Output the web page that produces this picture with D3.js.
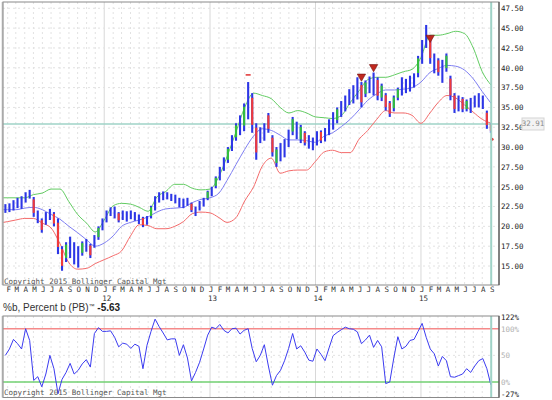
<!DOCTYPE html>
<html>
<head>
<meta charset="utf-8">
<script src="https://cdn.jsdelivr.net/npm/d3@7"></script>
<style>
body { margin: 0; background: #fff; }
svg { display: block; }
.mono { font-family: "DejaVu Sans Mono", monospace; font-size: 7.5px; }
</style>
</head>
<body>
<div id="chart"></div>
<script>
// biweekly bars, first one on 24 Jan 2011
const firstBar = new Date(2011, 0, 24);

const lows = [21.7,21.8,22.0,22.3,22.2,23.0,23.5,21.2,20.4,19.2, 20.2,20.8,20.0,16.5,14.4,15.5,16.0,15.2,14.8,16.3,
  16.8,16.0,17.3,18.3,19.5,20.5,21.3,21.0,20.5,20.8, 20.6,20.9,20.7,20.3,19.9,20.2,21.0,22.0,23.0,23.3,
  23.4,23.2,22.9,22.4,22.3,22.6,21.8,21.3,22.0,22.5, 23.3,23.8,24.8,25.8,27.0,28.0,29.5,30.8,31.5,32.0,
  33.5,31.8,28.4,30.5,30.8,31.8,28.8,27.5,28.2,28.7, 30.0,31.5,31.0,30.5,30.2,29.8,29.6,30.2,30.5,30.7,
  31.5,32.2,33.0,33.8,34.5,35.3,35.5,36.0,35.0,36.3, 36.8,36.5,35.9,35.8,34.6,33.8,34.5,35.9,36.5,36.8,
  37.0,37.5,38.8,40.5,42.5,40.5,39.3,39.0,38.1,39.5, 35.9,34.3,34.5,34.4,34.5,34.3,35.0,35.0,34.8,32.3,
  31.8];
const highs = [22.8,22.9,23.3,23.6,23.8,24.3,24.6,23.7,22.0,21.0, 21.8,22.2,21.8,21.0,17.5,18.0,18.7,18.0,17.5,18.1,
  18.4,17.8,18.9,20.0,21.0,22.0,22.4,22.5,21.8,22.0, 21.9,22.0,21.8,21.5,21.2,21.3,22.6,23.8,24.3,24.4,
  24.3,24.1,24.0,23.6,23.5,23.6,23.0,22.5,23.2,23.6, 24.5,25.0,26.3,27.5,28.7,30.0,31.5,33.0,34.0,35.5,
  38.2,36.8,33.0,32.5,33.0,34.3,31.5,30.0,30.5,31.0, 32.2,33.8,33.2,32.8,32.0,31.5,31.2,32.0,32.1,32.4,
  33.5,34.4,35.0,35.8,36.5,37.3,37.8,38.8,38.2,38.4, 38.9,39.4,38.8,38.0,36.8,35.8,36.5,37.5,38.8,38.6,
  39.0,39.3,41.5,43.5,45.4,44.1,41.8,41.2,41.0,41.8, 39.0,36.8,36.5,36.3,36.0,36.2,36.5,36.8,36.5,34.6,
  33.0];
// b = plain, r = down, g = up
const barColors = "bbbbbbbrbr" + "bbrrrgbbbg" + "brbgbbbbrb" + "bbbbrbgbbb" + "bbbbbbrbbb" + "gbgbbgbgbg" +
  "brrbbrrgbb" + "bgbgrbbbrb" + "bbgbbbbbrg" + "bbrgrrggbb" + "bbgbbrbrbg" + "rrbrgbbbbr" + "r";

const percentB = [50,62,80,72,62,100,78,3,10,-9, 15,50,25,-22,5,18,35,15,22,34,
  42,28,91,102,95,95,96,84,66,73, 71,63,71,67,25,69,95,118,104,92,
  79,81,81,50,70,45,2,18,37,62, 88,103,100,108,97,92,100,101,90,97,
  100,63,38,50,70,30,-6,12,22,40, 63,91,62,68,56,41,39,62,52,40,
  64,87,93,98,103,100,99,94,72,79, 88,65,78,66,-3,0,45,85,62,67,
  78,80,95,110,84,62,53,30,48,40, 10,9,12,15,25,18,30,40,44,25,
  -5.63];

// bands read once a month (first point mid January 2011)
const bandDates = [new Date(2011, 0, 17)].concat(d3.timeMonth.range(new Date(2011, 1, 1), new Date(2015, 9, 1)));
const upperBand = [23.6,23.6,23.6,23.6,24.0,24.2,24.7,24.7,23.1,21.5,20.4,19.3,20.8,22.6,22.9,22.8,22.4,21.9,23.7,24.4,
  25.3,25.3,24.8,24.6,24.7,26.3,28.8,31.9,35.0,36.8,36.5,36.1,35.0,34.3,34.6,34.3,33.8,33.7,33.6,34.0,
  35.6,37.1,38.5,38.8,38.8,39.1,39.5,39.8,41.3,44.1,44.1,44.3,44.6,44.3,42.5,39.5,37.8];
const midBand = [22.1,22.1,22.1,22.3,22.4,22.1,21.5,20.9,20.0,19.2,18.3,17.5,17.9,18.8,20.0,20.5,20.8,21.2,21.8,22.2,
  22.3,22.4,23.0,23.4,23.6,24.2,25.8,27.8,29.7,31.4,32.3,32.1,31.5,30.9,30.9,30.8,30.6,31.4,31.8,32.6,
  33.5,34.7,35.9,36.7,37.2,37.2,37.3,37.5,38.2,39.4,39.9,40.3,40.2,39.7,38.6,37.0,35.5];
const lowerBand = [20.5,20.6,20.8,21.0,21.0,20.4,19.8,17.8,15.4,14.6,14.7,15.3,15.8,16.3,16.9,18.8,20.2,20.1,19.7,19.7,
  20.0,20.6,21.6,21.8,21.7,21.1,20.5,21.1,23.2,25.0,27.6,28.6,26.7,27.0,27.1,27.1,28.2,29.4,29.6,29.3,
  29.3,31.0,32.1,33.5,34.6,34.3,34.3,34.0,33.0,34.3,35.6,36.5,36.2,35.3,34.4,33.5,33.0];

const signalBars = [88, 91, 105];
const signalPrices = [38.9, 40.1, 43.8];
const dashBar = 60, dashPrice = 39.1;
const lastDot = { date: new Date(2015, 8, 4), price: 31.0 };
const lastPrice = 32.91;
const lastPB = "-5.63";
const markerDate = new Date(2015, 8, 1);

const priceTicks = d3.range(15, 47.6, 2.5);
const pbTicks = [122, 100, 50, 0, -27];
const monthLetters = "JFMAMJJASOND";

const W = 552, H = 400;
const svg = d3.select("#chart").append("svg")
  .attr("width", W).attr("height", H)
  .attr("viewBox", [0, 0, W, H]);

const main = { l: 3, t: 2, r: 499, b: 285 };
const low = { l: 3, t: 316, r: 499, b: 397.5 };

const x = d3.scaleTime()
  .domain([new Date(2011, 1, 1), new Date(2015, 8, 1)])
  .range([7.7, 491.2]);
const yP = d3.scaleLinear().domain([15, 47.5]).range([266, 8.3]);
const yB = d3.scaleLinear().domain([-27, 122]).range([396.4, 317]);

const barDates = lows.map((d, i) => d3.timeDay.offset(firstBar, 14 * i));
const months = d3.timeMonth.range(new Date(2011, 1, 1), new Date(2015, 8, 2));

svg.append("clipPath").attr("id", "clipMain")
  .append("rect").attr("x", main.l).attr("y", main.t)
  .attr("width", main.r - main.l).attr("height", main.b - main.t);
svg.append("clipPath").attr("id", "clipLow")
  .append("rect").attr("x", low.l).attr("y", low.t)
  .attr("width", low.r - low.l).attr("height", low.b - low.t);

// grids
function grid(p) {
  const g = svg.append("g");
  g.selectAll("line.m").data(months).enter().append("line")
    .attr("x1", d => x(d)).attr("x2", d => x(d))
    .attr("y1", p.t).attr("y2", p.b)
    .attr("stroke", d => d.getMonth() === 0 ? "#d8d8d8" : "#e2e2e2")
    .attr("stroke-dasharray", d => d.getMonth() === 0 ? null : "2,3");
  return g;
}
const gMainGrid = grid(main);
gMainGrid.selectAll("line.h").data(priceTicks).enter().append("line")
  .attr("x1", main.l).attr("x2", main.r)
  .attr("y1", d => yP(d)).attr("y2", d => yP(d))
  .attr("stroke", "#e2e2e2").attr("stroke-dasharray", "2,3");
const gLowGrid = grid(low);
gLowGrid.append("line")
  .attr("x1", low.l).attr("x2", low.r)
  .attr("y1", yB(50)).attr("y2", yB(50))
  .attr("stroke", "#e2e2e2").attr("stroke-dasharray", "2,3");

// main panel
const gm = svg.append("g").attr("clip-path", "url(#clipMain)");

gm.append("line")
  .attr("x1", main.l).attr("x2", main.r)
  .attr("y1", yP(lastPrice)).attr("y2", yP(lastPrice))
  .attr("stroke", "#9fd3c7").attr("stroke-width", 1.6);

const band = d3.line().x((d, i) => x(bandDates[i])).y(d => yP(d)).curve(d3.curveMonotoneX);
[[upperBand, "#62cc62"], [midBand, "#7e7ef2"], [lowerBand, "#f46a6a"]].forEach(([arr, c]) => {
  gm.append("path").datum(arr)
    .attr("d", band).attr("fill", "none")
    .attr("stroke", c).attr("stroke-width", 1);
});

gm.selectAll("line.bar").data(lows).enter().append("line")
  .attr("x1", (d, i) => x(barDates[i])).attr("x2", (d, i) => x(barDates[i]))
  .attr("y1", d => yP(d)).attr("y2", (d, i) => yP(highs[i]))
  .attr("stroke", "#2c36e6").attr("stroke-width", 2.1);

const colored = lows.map((d, i) => i).filter(i => barColors[i] !== "b");
gm.selectAll("line.col").data(colored).enter().append("line")
  .attr("x1", i => x(barDates[i])).attr("x2", i => x(barDates[i]))
  .attr("y1", i => yP(lows[i] + 0.2 * (highs[i] - lows[i])))
  .attr("y2", i => yP(highs[i] - 0.12 * (highs[i] - lows[i])))
  .attr("stroke", i => barColors[i] === "r" ? "#f03a3a" : "#33c03c")
  .attr("stroke-width", 2.1);

gm.selectAll("path.sig").data(signalBars).enter().append("path")
  .attr("d", d3.symbol(d3.symbolTriangle, 30))
  .attr("transform", (d, k) => `translate(${x(barDates[d])},${yP(signalPrices[k])}) rotate(180)`)
  .attr("fill", "#c0281e").attr("stroke", "#701010").attr("stroke-width", 0.6);

gm.append("line")
  .attr("x1", x(barDates[dashBar]) - 2.5).attr("x2", x(barDates[dashBar]) + 2.5)
  .attr("y1", yP(dashPrice)).attr("y2", yP(dashPrice))
  .attr("stroke", "#e03030").attr("stroke-width", 1.5);

gm.append("circle")
  .attr("cx", x(lastDot.date)).attr("cy", yP(lastDot.price))
  .attr("r", 1.5).attr("fill", "#e03030");

gm.append("line")
  .attr("x1", x(markerDate)).attr("x2", x(markerDate))
  .attr("y1", main.t).attr("y2", main.b)
  .attr("stroke", "#9fd3c7").attr("stroke-width", 2);

svg.append("text").attr("class", "mono")
  .attr("x", 4).attr("y", 283.5).attr("fill", "#555")
  .text("Copyright 2015 Bollinger Capital Mgt");

// lower panel
const gl = svg.append("g").attr("clip-path", "url(#clipLow)");
gl.append("line")
  .attr("x1", low.l).attr("x2", low.r)
  .attr("y1", yB(100)).attr("y2", yB(100))
  .attr("stroke", "#f58a8a").attr("stroke-width", 1.6);
gl.append("line")
  .attr("x1", low.l).attr("x2", low.r)
  .attr("y1", yB(0)).attr("y2", yB(0))
  .attr("stroke", "#72d072").attr("stroke-width", 1.6);
gl.append("path").datum(percentB)
  .attr("d", d3.line().x((d, i) => x(barDates[i])).y(d => yB(d)))
  .attr("fill", "none").attr("stroke", "#3b3bf0").attr("stroke-width", 1);
gl.append("line")
  .attr("x1", x(markerDate)).attr("x2", x(markerDate))
  .attr("y1", low.t).attr("y2", low.b)
  .attr("stroke", "#9fd3c7").attr("stroke-width", 2);

svg.append("text").attr("class", "mono")
  .attr("x", 4).attr("y", 395).attr("fill", "#555")
  .text("Copyright 2015 Bollinger Capital Mgt");

// borders
[main, low].forEach(p => {
  svg.append("rect")
    .attr("x", p.l).attr("y", p.t)
    .attr("width", p.r - p.l).attr("height", p.b - p.t)
    .attr("fill", "none").attr("stroke", "#8a8a8a").attr("stroke-width", 1);
  svg.append("line")
    .attr("x1", p.l - 0.5).attr("x2", p.l - 0.5).attr("y1", p.t).attr("y2", p.b)
    .attr("stroke", "#aaa").attr("stroke-width", 1.5);
  svg.append("line")
    .attr("x1", p.r).attr("x2", p.r).attr("y1", p.t).attr("y2", p.b)
    .attr("stroke", "#555").attr("stroke-width", 1.2);
});

// price axis
const yAxis = d3.axisRight(yP).tickValues(priceTicks)
  .tickFormat(d3.format(".2f")).tickSize(0).tickPadding(2);
const gY = svg.append("g").attr("transform", `translate(${main.r},0)`).call(yAxis);
gY.select(".domain").remove();
gY.selectAll("text").attr("class", "mono").attr("font-size", null).attr("font-family", null)
  .attr("fill", "#222");

svg.append("rect")
  .attr("x", 522).attr("y", yP(lastPrice) - 6)
  .attr("width", 22).attr("height", 12)
  .attr("fill", "#f3f3f3").attr("stroke", "#d4d4d4");
svg.append("text").attr("class", "mono")
  .attr("x", 533).attr("y", yP(lastPrice) + 2.5)
  .attr("text-anchor", "middle").attr("fill", "#8a8a8a")
  .text(lastPrice.toFixed(2));

// %b axis
const bAxis = d3.axisRight(yB).tickValues(pbTicks)
  .tickFormat(d => d === 50 ? "50" : d + "%").tickSize(0).tickPadding(2);
const gB = svg.append("g").attr("transform", `translate(${low.r},0)`).call(bAxis);
gB.select(".domain").remove();
gB.selectAll("text").attr("class", "mono").attr("font-size", null).attr("font-family", null)
  .attr("fill", d => (d === 122 || d === -27) ? "#222" : "#b0b0b0");
gB.selectAll(".tick").filter(d => d === -27).select("text").attr("dy", "-0.05em");

// month / year labels
svg.selectAll("text.mon").data(months).enter().append("text")
  .attr("class", "mono")
  .attr("x", d => x(d) + 1).attr("y", 291.5)
  .attr("text-anchor", "middle").attr("fill", "#333")
  .text(d => monthLetters[d.getMonth()]);
svg.selectAll("text.yr").data(months.filter(d => d.getMonth() === 0)).enter().append("text")
  .attr("class", "mono")
  .attr("x", d => x(d) + 2.5).attr("y", 300.5)
  .attr("text-anchor", "middle").attr("fill", "#333")
  .text(d => String(d.getFullYear()).slice(2));

// %b title
const title = svg.append("text")
  .attr("x", 3).attr("y", 311)
  .attr("font-family", "'Liberation Sans', Arial, sans-serif")
  .attr("font-size", 10).attr("fill", "#333");
title.append("tspan").text("%b, Percent b (PB)");
title.append("tspan").attr("font-size", 6).attr("dy", -3).text("™");
title.append("tspan").attr("dy", 3).attr("font-weight", "bold").attr("fill", "#222").text(" " + lastPB);
</script>
</body>
</html>
